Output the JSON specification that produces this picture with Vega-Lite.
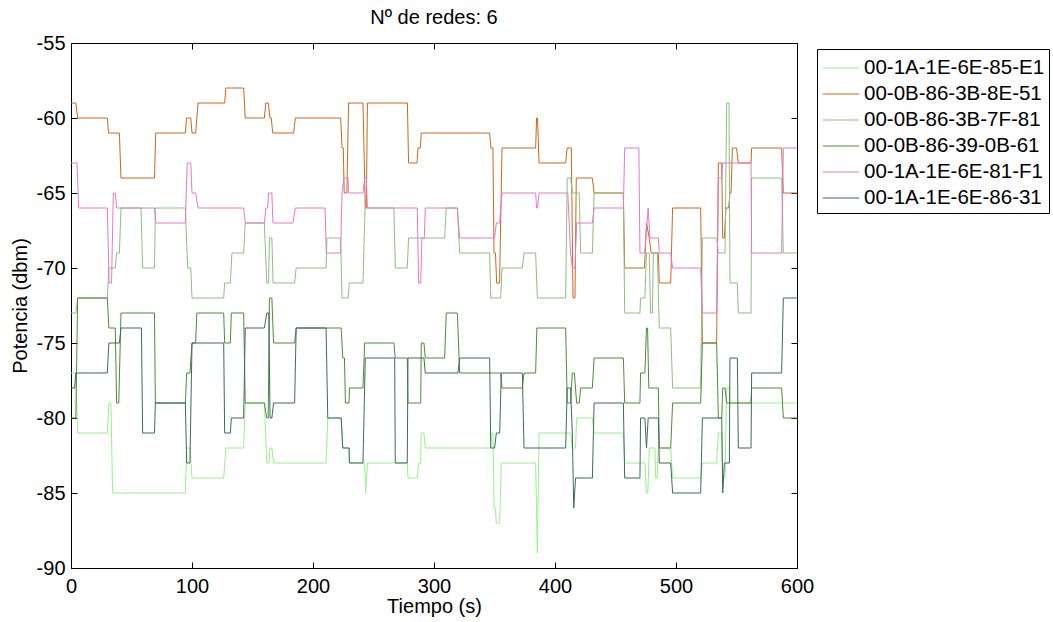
{
"$schema":"https://vega.github.io/schema/vega-lite/v6.json",
"width":726,"height":525,
"autosize":{"type":"none"},
"padding":{"left":71,"top":43,"right":256,"bottom":54},
"background":"white",
"title":{"text":"Nº de redes: 6","fontSize":20,"font":"Liberation Sans","fontWeight":"normal","color":"black","offset":5,"frame":"group","anchor":"middle"},
"datasets":{"d":[
{"s":"00-1A-1E-6E-85-E1","t":0,"v":-77},{"s":"00-1A-1E-6E-85-E1","t":4,"v":-77},{"s":"00-1A-1E-6E-85-E1","t":5.5,"v":-81},{"s":"00-1A-1E-6E-85-E1","t":30,"v":-81},{"s":"00-1A-1E-6E-85-E1","t":31.3,"v":-79},{"s":"00-1A-1E-6E-85-E1","t":33,"v":-79},{"s":"00-1A-1E-6E-85-E1","t":34.4,"v":-85},{"s":"00-1A-1E-6E-85-E1","t":94.5,"v":-85},{"s":"00-1A-1E-6E-85-E1","t":95.6,"v":-82},{"s":"00-1A-1E-6E-85-E1","t":98.3,"v":-82},{"s":"00-1A-1E-6E-85-E1","t":100,"v":-84},{"s":"00-1A-1E-6E-85-E1","t":126.2,"v":-84},{"s":"00-1A-1E-6E-85-E1","t":128,"v":-82},{"s":"00-1A-1E-6E-85-E1","t":142.7,"v":-82},{"s":"00-1A-1E-6E-85-E1","t":144,"v":-79},{"s":"00-1A-1E-6E-85-E1","t":159.8,"v":-79},{"s":"00-1A-1E-6E-85-E1","t":161.8,"v":-83},{"s":"00-1A-1E-6E-85-E1","t":163.5,"v":-83},{"s":"00-1A-1E-6E-85-E1","t":164.5,"v":-82},{"s":"00-1A-1E-6E-85-E1","t":166,"v":-82},{"s":"00-1A-1E-6E-85-E1","t":167.4,"v":-83},{"s":"00-1A-1E-6E-85-E1","t":210.8,"v":-83},{"s":"00-1A-1E-6E-85-E1","t":212.2,"v":-80},{"s":"00-1A-1E-6E-85-E1","t":223.3,"v":-80},{"s":"00-1A-1E-6E-85-E1","t":224.6,"v":-82},{"s":"00-1A-1E-6E-85-E1","t":229.8,"v":-82},{"s":"00-1A-1E-6E-85-E1","t":230.1,"v":-83},{"s":"00-1A-1E-6E-85-E1","t":242.7,"v":-83},{"s":"00-1A-1E-6E-85-E1","t":243.5,"v":-85},{"s":"00-1A-1E-6E-85-E1","t":245,"v":-83},{"s":"00-1A-1E-6E-85-E1","t":277.9,"v":-83},{"s":"00-1A-1E-6E-85-E1","t":278.5,"v":-84},{"s":"00-1A-1E-6E-85-E1","t":286.2,"v":-84},{"s":"00-1A-1E-6E-85-E1","t":287.3,"v":-83},{"s":"00-1A-1E-6E-85-E1","t":289,"v":-83},{"s":"00-1A-1E-6E-85-E1","t":289.5,"v":-81},{"s":"00-1A-1E-6E-85-E1","t":291.7,"v":-81},{"s":"00-1A-1E-6E-85-E1","t":292.8,"v":-82},{"s":"00-1A-1E-6E-85-E1","t":346.9,"v":-82},{"s":"00-1A-1E-6E-85-E1","t":347.4,"v":-81},{"s":"00-1A-1E-6E-85-E1","t":348.8,"v":-81},{"s":"00-1A-1E-6E-85-E1","t":349.6,"v":-86},{"s":"00-1A-1E-6E-85-E1","t":350.7,"v":-86},{"s":"00-1A-1E-6E-85-E1","t":351.5,"v":-87},{"s":"00-1A-1E-6E-85-E1","t":354.3,"v":-87},{"s":"00-1A-1E-6E-85-E1","t":355.6,"v":-83},{"s":"00-1A-1E-6E-85-E1","t":384,"v":-83},{"s":"00-1A-1E-6E-85-E1","t":385.4,"v":-89},{"s":"00-1A-1E-6E-85-E1","t":386.8,"v":-81},{"s":"00-1A-1E-6E-85-E1","t":412.9,"v":-81},{"s":"00-1A-1E-6E-85-E1","t":414.3,"v":-82},{"s":"00-1A-1E-6E-85-E1","t":417,"v":-82},{"s":"00-1A-1E-6E-85-E1","t":417.9,"v":-80},{"s":"00-1A-1E-6E-85-E1","t":430.9,"v":-80},{"s":"00-1A-1E-6E-85-E1","t":432.3,"v":-81},{"s":"00-1A-1E-6E-85-E1","t":456.5,"v":-81},{"s":"00-1A-1E-6E-85-E1","t":457.6,"v":-83},{"s":"00-1A-1E-6E-85-E1","t":474.3,"v":-83},{"s":"00-1A-1E-6E-85-E1","t":475.6,"v":-85},{"s":"00-1A-1E-6E-85-E1","t":476.7,"v":-85},{"s":"00-1A-1E-6E-85-E1","t":478,"v":-82},{"s":"00-1A-1E-6E-85-E1","t":482.6,"v":-82},{"s":"00-1A-1E-6E-85-E1","t":483.2,"v":-84},{"s":"00-1A-1E-6E-85-E1","t":484.5,"v":-84},{"s":"00-1A-1E-6E-85-E1","t":485.4,"v":-82},{"s":"00-1A-1E-6E-85-E1","t":495.6,"v":-82},{"s":"00-1A-1E-6E-85-E1","t":497.2,"v":-84},{"s":"00-1A-1E-6E-85-E1","t":520.4,"v":-84},{"s":"00-1A-1E-6E-85-E1","t":521.8,"v":-83},{"s":"00-1A-1E-6E-85-E1","t":533.6,"v":-83},{"s":"00-1A-1E-6E-85-E1","t":535,"v":-81},{"s":"00-1A-1E-6E-85-E1","t":537.8,"v":-81},{"s":"00-1A-1E-6E-85-E1","t":538.6,"v":-84},{"s":"00-1A-1E-6E-85-E1","t":540.5,"v":-84},{"s":"00-1A-1E-6E-85-E1","t":541.9,"v":-78},{"s":"00-1A-1E-6E-85-E1","t":544.1,"v":-78},{"s":"00-1A-1E-6E-85-E1","t":544.6,"v":-79},{"s":"00-1A-1E-6E-85-E1","t":600,"v":-79},
{"s":"00-0B-86-3B-8E-51","t":0,"v":-59},{"s":"00-0B-86-3B-8E-51","t":4,"v":-59},{"s":"00-0B-86-3B-8E-51","t":5.5,"v":-60},{"s":"00-0B-86-3B-8E-51","t":30,"v":-60},{"s":"00-0B-86-3B-8E-51","t":31,"v":-61},{"s":"00-0B-86-3B-8E-51","t":40,"v":-61},{"s":"00-0B-86-3B-8E-51","t":41.3,"v":-64},{"s":"00-0B-86-3B-8E-51","t":69,"v":-64},{"s":"00-0B-86-3B-8E-51","t":70,"v":-61},{"s":"00-0B-86-3B-8E-51","t":94.5,"v":-61},{"s":"00-0B-86-3B-8E-51","t":95.5,"v":-60},{"s":"00-0B-86-3B-8E-51","t":99,"v":-60},{"s":"00-0B-86-3B-8E-51","t":100,"v":-61},{"s":"00-0B-86-3B-8E-51","t":103,"v":-61},{"s":"00-0B-86-3B-8E-51","t":105,"v":-59},{"s":"00-0B-86-3B-8E-51","t":127,"v":-59},{"s":"00-0B-86-3B-8E-51","t":128,"v":-58},{"s":"00-0B-86-3B-8E-51","t":142.7,"v":-58},{"s":"00-0B-86-3B-8E-51","t":144,"v":-60},{"s":"00-0B-86-3B-8E-51","t":159.8,"v":-60},{"s":"00-0B-86-3B-8E-51","t":161,"v":-59},{"s":"00-0B-86-3B-8E-51","t":163,"v":-59},{"s":"00-0B-86-3B-8E-51","t":164.5,"v":-60},{"s":"00-0B-86-3B-8E-51","t":165.5,"v":-60},{"s":"00-0B-86-3B-8E-51","t":166.7,"v":-61},{"s":"00-0B-86-3B-8E-51","t":184,"v":-61},{"s":"00-0B-86-3B-8E-51","t":185.4,"v":-60},{"s":"00-0B-86-3B-8E-51","t":222.9,"v":-60},{"s":"00-0B-86-3B-8E-51","t":224,"v":-62},{"s":"00-0B-86-3B-8E-51","t":225,"v":-62},{"s":"00-0B-86-3B-8E-51","t":225.8,"v":-65},{"s":"00-0B-86-3B-8E-51","t":228,"v":-65},{"s":"00-0B-86-3B-8E-51","t":229.4,"v":-59},{"s":"00-0B-86-3B-8E-51","t":241.3,"v":-59},{"s":"00-0B-86-3B-8E-51","t":243.2,"v":-66},{"s":"00-0B-86-3B-8E-51","t":244,"v":-66},{"s":"00-0B-86-3B-8E-51","t":245,"v":-59},{"s":"00-0B-86-3B-8E-51","t":278,"v":-59},{"s":"00-0B-86-3B-8E-51","t":279,"v":-63},{"s":"00-0B-86-3B-8E-51","t":286,"v":-63},{"s":"00-0B-86-3B-8E-51","t":286.8,"v":-62},{"s":"00-0B-86-3B-8E-51","t":288.7,"v":-62},{"s":"00-0B-86-3B-8E-51","t":289.5,"v":-61},{"s":"00-0B-86-3B-8E-51","t":346,"v":-61},{"s":"00-0B-86-3B-8E-51","t":347,"v":-62},{"s":"00-0B-86-3B-8E-51","t":348.7,"v":-62},{"s":"00-0B-86-3B-8E-51","t":349.6,"v":-69},{"s":"00-0B-86-3B-8E-51","t":350.8,"v":-69},{"s":"00-0B-86-3B-8E-51","t":351.8,"v":-71},{"s":"00-0B-86-3B-8E-51","t":354.2,"v":-71},{"s":"00-0B-86-3B-8E-51","t":356.2,"v":-62},{"s":"00-0B-86-3B-8E-51","t":384,"v":-62},{"s":"00-0B-86-3B-8E-51","t":384.8,"v":-60},{"s":"00-0B-86-3B-8E-51","t":385.6,"v":-60},{"s":"00-0B-86-3B-8E-51","t":386.8,"v":-63},{"s":"00-0B-86-3B-8E-51","t":408.8,"v":-63},{"s":"00-0B-86-3B-8E-51","t":410,"v":-62},{"s":"00-0B-86-3B-8E-51","t":413.5,"v":-62},{"s":"00-0B-86-3B-8E-51","t":414.9,"v":-72},{"s":"00-0B-86-3B-8E-51","t":416.5,"v":-72},{"s":"00-0B-86-3B-8E-51","t":417.6,"v":-64},{"s":"00-0B-86-3B-8E-51","t":430.9,"v":-64},{"s":"00-0B-86-3B-8E-51","t":432.3,"v":-65},{"s":"00-0B-86-3B-8E-51","t":456.5,"v":-65},{"s":"00-0B-86-3B-8E-51","t":457.6,"v":-70},{"s":"00-0B-86-3B-8E-51","t":474,"v":-70},{"s":"00-0B-86-3B-8E-51","t":475.6,"v":-67},{"s":"00-0B-86-3B-8E-51","t":477.9,"v":-68},{"s":"00-0B-86-3B-8E-51","t":479.5,"v":-69},{"s":"00-0B-86-3B-8E-51","t":485.4,"v":-69},{"s":"00-0B-86-3B-8E-51","t":486.2,"v":-71},{"s":"00-0B-86-3B-8E-51","t":495.6,"v":-71},{"s":"00-0B-86-3B-8E-51","t":497.2,"v":-66},{"s":"00-0B-86-3B-8E-51","t":520.4,"v":-66},{"s":"00-0B-86-3B-8E-51","t":521.8,"v":-75},{"s":"00-0B-86-3B-8E-51","t":533.6,"v":-75},{"s":"00-0B-86-3B-8E-51","t":535,"v":-63},{"s":"00-0B-86-3B-8E-51","t":537.8,"v":-63},{"s":"00-0B-86-3B-8E-51","t":538.6,"v":-68},{"s":"00-0B-86-3B-8E-51","t":540,"v":-68},{"s":"00-0B-86-3B-8E-51","t":541.3,"v":-66},{"s":"00-0B-86-3B-8E-51","t":543.5,"v":-66},{"s":"00-0B-86-3B-8E-51","t":544.6,"v":-65},{"s":"00-0B-86-3B-8E-51","t":545.5,"v":-65},{"s":"00-0B-86-3B-8E-51","t":546.6,"v":-62},{"s":"00-0B-86-3B-8E-51","t":550,"v":-62},{"s":"00-0B-86-3B-8E-51","t":551.5,"v":-63},{"s":"00-0B-86-3B-8E-51","t":562,"v":-63},{"s":"00-0B-86-3B-8E-51","t":562.5,"v":-62},{"s":"00-0B-86-3B-8E-51","t":587.3,"v":-62},{"s":"00-0B-86-3B-8E-51","t":588.7,"v":-65},{"s":"00-0B-86-3B-8E-51","t":600,"v":-65},
{"s":"00-0B-86-3B-7F-81","t":0,"v":-73},{"s":"00-0B-86-3B-7F-81","t":4,"v":-73},{"s":"00-0B-86-3B-7F-81","t":5.5,"v":-72},{"s":"00-0B-86-3B-7F-81","t":30,"v":-72},{"s":"00-0B-86-3B-7F-81","t":31.3,"v":-70},{"s":"00-0B-86-3B-7F-81","t":36.6,"v":-70},{"s":"00-0B-86-3B-7F-81","t":37.7,"v":-69},{"s":"00-0B-86-3B-7F-81","t":40,"v":-69},{"s":"00-0B-86-3B-7F-81","t":41.3,"v":-66},{"s":"00-0B-86-3B-7F-81","t":57.9,"v":-66},{"s":"00-0B-86-3B-7F-81","t":59.2,"v":-70},{"s":"00-0B-86-3B-7F-81","t":69,"v":-70},{"s":"00-0B-86-3B-7F-81","t":69.7,"v":-66},{"s":"00-0B-86-3B-7F-81","t":94.5,"v":-66},{"s":"00-0B-86-3B-7F-81","t":96.4,"v":-70},{"s":"00-0B-86-3B-7F-81","t":99,"v":-70},{"s":"00-0B-86-3B-7F-81","t":100,"v":-72},{"s":"00-0B-86-3B-7F-81","t":126.2,"v":-72},{"s":"00-0B-86-3B-7F-81","t":127,"v":-71},{"s":"00-0B-86-3B-7F-81","t":131.7,"v":-71},{"s":"00-0B-86-3B-7F-81","t":133,"v":-69},{"s":"00-0B-86-3B-7F-81","t":142.7,"v":-69},{"s":"00-0B-86-3B-7F-81","t":144,"v":-67},{"s":"00-0B-86-3B-7F-81","t":159.8,"v":-67},{"s":"00-0B-86-3B-7F-81","t":161.8,"v":-71},{"s":"00-0B-86-3B-7F-81","t":163.3,"v":-71},{"s":"00-0B-86-3B-7F-81","t":164,"v":-68},{"s":"00-0B-86-3B-7F-81","t":166,"v":-68},{"s":"00-0B-86-3B-7F-81","t":167,"v":-71},{"s":"00-0B-86-3B-7F-81","t":184.8,"v":-71},{"s":"00-0B-86-3B-7F-81","t":186.1,"v":-70},{"s":"00-0B-86-3B-7F-81","t":210.8,"v":-70},{"s":"00-0B-86-3B-7F-81","t":211.5,"v":-68},{"s":"00-0B-86-3B-7F-81","t":222.8,"v":-68},{"s":"00-0B-86-3B-7F-81","t":224,"v":-72},{"s":"00-0B-86-3B-7F-81","t":229,"v":-72},{"s":"00-0B-86-3B-7F-81","t":230,"v":-71},{"s":"00-0B-86-3B-7F-81","t":241.3,"v":-71},{"s":"00-0B-86-3B-7F-81","t":243,"v":-66},{"s":"00-0B-86-3B-7F-81","t":266.9,"v":-66},{"s":"00-0B-86-3B-7F-81","t":268,"v":-70},{"s":"00-0B-86-3B-7F-81","t":277.9,"v":-70},{"s":"00-0B-86-3B-7F-81","t":279,"v":-68},{"s":"00-0B-86-3B-7F-81","t":308.8,"v":-68},{"s":"00-0B-86-3B-7F-81","t":310.1,"v":-66},{"s":"00-0B-86-3B-7F-81","t":319.3,"v":-66},{"s":"00-0B-86-3B-7F-81","t":321.2,"v":-69},{"s":"00-0B-86-3B-7F-81","t":346,"v":-69},{"s":"00-0B-86-3B-7F-81","t":346.9,"v":-72},{"s":"00-0B-86-3B-7F-81","t":355.1,"v":-72},{"s":"00-0B-86-3B-7F-81","t":356.2,"v":-70},{"s":"00-0B-86-3B-7F-81","t":373,"v":-70},{"s":"00-0B-86-3B-7F-81","t":374.4,"v":-69},{"s":"00-0B-86-3B-7F-81","t":384,"v":-69},{"s":"00-0B-86-3B-7F-81","t":385.4,"v":-72},{"s":"00-0B-86-3B-7F-81","t":408.8,"v":-72},{"s":"00-0B-86-3B-7F-81","t":410.1,"v":-64},{"s":"00-0B-86-3B-7F-81","t":412.9,"v":-64},{"s":"00-0B-86-3B-7F-81","t":414.5,"v":-65},{"s":"00-0B-86-3B-7F-81","t":420,"v":-65},{"s":"00-0B-86-3B-7F-81","t":421.2,"v":-69},{"s":"00-0B-86-3B-7F-81","t":430.9,"v":-69},{"s":"00-0B-86-3B-7F-81","t":432.3,"v":-65},{"s":"00-0B-86-3B-7F-81","t":456.5,"v":-65},{"s":"00-0B-86-3B-7F-81","t":457.6,"v":-73},{"s":"00-0B-86-3B-7F-81","t":470.2,"v":-73},{"s":"00-0B-86-3B-7F-81","t":470.7,"v":-72},{"s":"00-0B-86-3B-7F-81","t":474.3,"v":-72},{"s":"00-0B-86-3B-7F-81","t":475.6,"v":-69},{"s":"00-0B-86-3B-7F-81","t":477.9,"v":-69},{"s":"00-0B-86-3B-7F-81","t":479,"v":-73},{"s":"00-0B-86-3B-7F-81","t":480.5,"v":-73},{"s":"00-0B-86-3B-7F-81","t":481.3,"v":-69},{"s":"00-0B-86-3B-7F-81","t":484.6,"v":-69},{"s":"00-0B-86-3B-7F-81","t":486.2,"v":-74},{"s":"00-0B-86-3B-7F-81","t":495.6,"v":-74},{"s":"00-0B-86-3B-7F-81","t":497.2,"v":-78},{"s":"00-0B-86-3B-7F-81","t":520.4,"v":-78},{"s":"00-0B-86-3B-7F-81","t":521.8,"v":-68},{"s":"00-0B-86-3B-7F-81","t":533.6,"v":-68},{"s":"00-0B-86-3B-7F-81","t":535,"v":-69},{"s":"00-0B-86-3B-7F-81","t":540.5,"v":-69},{"s":"00-0B-86-3B-7F-81","t":541.9,"v":-59},{"s":"00-0B-86-3B-7F-81","t":543.8,"v":-59},{"s":"00-0B-86-3B-7F-81","t":544.6,"v":-71},{"s":"00-0B-86-3B-7F-81","t":550.7,"v":-71},{"s":"00-0B-86-3B-7F-81","t":551.5,"v":-73},{"s":"00-0B-86-3B-7F-81","t":562,"v":-73},{"s":"00-0B-86-3B-7F-81","t":562.5,"v":-64},{"s":"00-0B-86-3B-7F-81","t":587.3,"v":-64},{"s":"00-0B-86-3B-7F-81","t":588.7,"v":-69},{"s":"00-0B-86-3B-7F-81","t":600,"v":-69},
{"s":"00-0B-86-39-0B-61","t":0,"v":-80},{"s":"00-0B-86-39-0B-61","t":4,"v":-80},{"s":"00-0B-86-39-0B-61","t":5.5,"v":-72},{"s":"00-0B-86-39-0B-61","t":30,"v":-72},{"s":"00-0B-86-39-0B-61","t":31.3,"v":-74},{"s":"00-0B-86-39-0B-61","t":36.6,"v":-74},{"s":"00-0B-86-39-0B-61","t":37.7,"v":-79},{"s":"00-0B-86-39-0B-61","t":39.5,"v":-79},{"s":"00-0B-86-39-0B-61","t":41.3,"v":-73},{"s":"00-0B-86-39-0B-61","t":69,"v":-73},{"s":"00-0B-86-39-0B-61","t":69.7,"v":-79},{"s":"00-0B-86-39-0B-61","t":94.5,"v":-79},{"s":"00-0B-86-39-0B-61","t":95.6,"v":-77},{"s":"00-0B-86-39-0B-61","t":98.3,"v":-77},{"s":"00-0B-86-39-0B-61","t":100,"v":-75},{"s":"00-0B-86-39-0B-61","t":103,"v":-75},{"s":"00-0B-86-39-0B-61","t":104,"v":-73},{"s":"00-0B-86-39-0B-61","t":126.2,"v":-73},{"s":"00-0B-86-39-0B-61","t":127,"v":-75},{"s":"00-0B-86-39-0B-61","t":131.7,"v":-75},{"s":"00-0B-86-39-0B-61","t":132.5,"v":-73},{"s":"00-0B-86-39-0B-61","t":142.7,"v":-73},{"s":"00-0B-86-39-0B-61","t":144,"v":-79},{"s":"00-0B-86-39-0B-61","t":159.8,"v":-79},{"s":"00-0B-86-39-0B-61","t":161.8,"v":-80},{"s":"00-0B-86-39-0B-61","t":163,"v":-80},{"s":"00-0B-86-39-0B-61","t":164,"v":-72},{"s":"00-0B-86-39-0B-61","t":166,"v":-72},{"s":"00-0B-86-39-0B-61","t":167.4,"v":-75},{"s":"00-0B-86-39-0B-61","t":184.8,"v":-75},{"s":"00-0B-86-39-0B-61","t":186.1,"v":-74},{"s":"00-0B-86-39-0B-61","t":223.3,"v":-74},{"s":"00-0B-86-39-0B-61","t":224.6,"v":-76},{"s":"00-0B-86-39-0B-61","t":226,"v":-76},{"s":"00-0B-86-39-0B-61","t":226.8,"v":-79},{"s":"00-0B-86-39-0B-61","t":229.8,"v":-79},{"s":"00-0B-86-39-0B-61","t":230.1,"v":-78},{"s":"00-0B-86-39-0B-61","t":241.3,"v":-78},{"s":"00-0B-86-39-0B-61","t":242.7,"v":-75},{"s":"00-0B-86-39-0B-61","t":266.9,"v":-75},{"s":"00-0B-86-39-0B-61","t":268,"v":-76},{"s":"00-0B-86-39-0B-61","t":277.9,"v":-76},{"s":"00-0B-86-39-0B-61","t":278.5,"v":-79},{"s":"00-0B-86-39-0B-61","t":289,"v":-79},{"s":"00-0B-86-39-0B-61","t":289.5,"v":-75},{"s":"00-0B-86-39-0B-61","t":291.7,"v":-75},{"s":"00-0B-86-39-0B-61","t":292.8,"v":-76},{"s":"00-0B-86-39-0B-61","t":308.8,"v":-76},{"s":"00-0B-86-39-0B-61","t":310.1,"v":-73},{"s":"00-0B-86-39-0B-61","t":319.3,"v":-73},{"s":"00-0B-86-39-0B-61","t":321.2,"v":-77},{"s":"00-0B-86-39-0B-61","t":355.1,"v":-77},{"s":"00-0B-86-39-0B-61","t":356.2,"v":-78},{"s":"00-0B-86-39-0B-61","t":373,"v":-78},{"s":"00-0B-86-39-0B-61","t":374.4,"v":-77},{"s":"00-0B-86-39-0B-61","t":384,"v":-77},{"s":"00-0B-86-39-0B-61","t":385,"v":-74},{"s":"00-0B-86-39-0B-61","t":408.8,"v":-74},{"s":"00-0B-86-39-0B-61","t":410.1,"v":-79},{"s":"00-0B-86-39-0B-61","t":412.9,"v":-79},{"s":"00-0B-86-39-0B-61","t":414.3,"v":-77},{"s":"00-0B-86-39-0B-61","t":416,"v":-77},{"s":"00-0B-86-39-0B-61","t":417.9,"v":-79},{"s":"00-0B-86-39-0B-61","t":420,"v":-79},{"s":"00-0B-86-39-0B-61","t":421.2,"v":-78},{"s":"00-0B-86-39-0B-61","t":430.9,"v":-78},{"s":"00-0B-86-39-0B-61","t":432.3,"v":-76},{"s":"00-0B-86-39-0B-61","t":456.5,"v":-76},{"s":"00-0B-86-39-0B-61","t":457.6,"v":-79},{"s":"00-0B-86-39-0B-61","t":470.2,"v":-79},{"s":"00-0B-86-39-0B-61","t":470.7,"v":-77},{"s":"00-0B-86-39-0B-61","t":474.3,"v":-77},{"s":"00-0B-86-39-0B-61","t":475.6,"v":-74},{"s":"00-0B-86-39-0B-61","t":476.5,"v":-74},{"s":"00-0B-86-39-0B-61","t":477.5,"v":-78},{"s":"00-0B-86-39-0B-61","t":485.4,"v":-78},{"s":"00-0B-86-39-0B-61","t":486.2,"v":-82},{"s":"00-0B-86-39-0B-61","t":495.6,"v":-82},{"s":"00-0B-86-39-0B-61","t":497.2,"v":-79},{"s":"00-0B-86-39-0B-61","t":520.4,"v":-79},{"s":"00-0B-86-39-0B-61","t":521.8,"v":-75},{"s":"00-0B-86-39-0B-61","t":533.6,"v":-75},{"s":"00-0B-86-39-0B-61","t":535,"v":-80},{"s":"00-0B-86-39-0B-61","t":537.8,"v":-80},{"s":"00-0B-86-39-0B-61","t":538.6,"v":-78},{"s":"00-0B-86-39-0B-61","t":540.5,"v":-78},{"s":"00-0B-86-39-0B-61","t":541.9,"v":-79},{"s":"00-0B-86-39-0B-61","t":562,"v":-79},{"s":"00-0B-86-39-0B-61","t":562.5,"v":-78},{"s":"00-0B-86-39-0B-61","t":587.3,"v":-78},{"s":"00-0B-86-39-0B-61","t":588.7,"v":-80},{"s":"00-0B-86-39-0B-61","t":600,"v":-80},
{"s":"00-1A-1E-6E-81-F1","t":0,"v":-63},{"s":"00-1A-1E-6E-81-F1","t":5,"v":-63},{"s":"00-1A-1E-6E-81-F1","t":6.3,"v":-66},{"s":"00-1A-1E-6E-81-F1","t":30,"v":-66},{"s":"00-1A-1E-6E-81-F1","t":31.5,"v":-71},{"s":"00-1A-1E-6E-81-F1","t":33.5,"v":-71},{"s":"00-1A-1E-6E-81-F1","t":35,"v":-65},{"s":"00-1A-1E-6E-81-F1","t":36.6,"v":-65},{"s":"00-1A-1E-6E-81-F1","t":37.7,"v":-66},{"s":"00-1A-1E-6E-81-F1","t":69,"v":-66},{"s":"00-1A-1E-6E-81-F1","t":70.2,"v":-67},{"s":"00-1A-1E-6E-81-F1","t":94.5,"v":-67},{"s":"00-1A-1E-6E-81-F1","t":96,"v":-63},{"s":"00-1A-1E-6E-81-F1","t":99,"v":-63},{"s":"00-1A-1E-6E-81-F1","t":100,"v":-65},{"s":"00-1A-1E-6E-81-F1","t":103,"v":-65},{"s":"00-1A-1E-6E-81-F1","t":105,"v":-66},{"s":"00-1A-1E-6E-81-F1","t":142.7,"v":-66},{"s":"00-1A-1E-6E-81-F1","t":144,"v":-67},{"s":"00-1A-1E-6E-81-F1","t":159.8,"v":-67},{"s":"00-1A-1E-6E-81-F1","t":161.1,"v":-66},{"s":"00-1A-1E-6E-81-F1","t":162.5,"v":-66},{"s":"00-1A-1E-6E-81-F1","t":163.3,"v":-65},{"s":"00-1A-1E-6E-81-F1","t":166,"v":-65},{"s":"00-1A-1E-6E-81-F1","t":166.9,"v":-67},{"s":"00-1A-1E-6E-81-F1","t":183.4,"v":-67},{"s":"00-1A-1E-6E-81-F1","t":185.4,"v":-66},{"s":"00-1A-1E-6E-81-F1","t":210,"v":-66},{"s":"00-1A-1E-6E-81-F1","t":211,"v":-69},{"s":"00-1A-1E-6E-81-F1","t":222.8,"v":-69},{"s":"00-1A-1E-6E-81-F1","t":224,"v":-65},{"s":"00-1A-1E-6E-81-F1","t":225.5,"v":-64},{"s":"00-1A-1E-6E-81-F1","t":229,"v":-64},{"s":"00-1A-1E-6E-81-F1","t":229.4,"v":-65},{"s":"00-1A-1E-6E-81-F1","t":241.3,"v":-65},{"s":"00-1A-1E-6E-81-F1","t":242.7,"v":-64},{"s":"00-1A-1E-6E-81-F1","t":244,"v":-64},{"s":"00-1A-1E-6E-81-F1","t":245,"v":-66},{"s":"00-1A-1E-6E-81-F1","t":286.2,"v":-66},{"s":"00-1A-1E-6E-81-F1","t":287.3,"v":-71},{"s":"00-1A-1E-6E-81-F1","t":289,"v":-71},{"s":"00-1A-1E-6E-81-F1","t":290,"v":-68},{"s":"00-1A-1E-6E-81-F1","t":292,"v":-68},{"s":"00-1A-1E-6E-81-F1","t":292.8,"v":-66},{"s":"00-1A-1E-6E-81-F1","t":319.3,"v":-66},{"s":"00-1A-1E-6E-81-F1","t":321.2,"v":-68},{"s":"00-1A-1E-6E-81-F1","t":350,"v":-68},{"s":"00-1A-1E-6E-81-F1","t":351.5,"v":-67},{"s":"00-1A-1E-6E-81-F1","t":354.2,"v":-67},{"s":"00-1A-1E-6E-81-F1","t":356.2,"v":-65},{"s":"00-1A-1E-6E-81-F1","t":384,"v":-65},{"s":"00-1A-1E-6E-81-F1","t":384.8,"v":-66},{"s":"00-1A-1E-6E-81-F1","t":385.6,"v":-66},{"s":"00-1A-1E-6E-81-F1","t":386.8,"v":-65},{"s":"00-1A-1E-6E-81-F1","t":410.6,"v":-65},{"s":"00-1A-1E-6E-81-F1","t":412.9,"v":-69},{"s":"00-1A-1E-6E-81-F1","t":414.3,"v":-70},{"s":"00-1A-1E-6E-81-F1","t":416.5,"v":-70},{"s":"00-1A-1E-6E-81-F1","t":417.9,"v":-67},{"s":"00-1A-1E-6E-81-F1","t":430.9,"v":-67},{"s":"00-1A-1E-6E-81-F1","t":432.3,"v":-66},{"s":"00-1A-1E-6E-81-F1","t":456.5,"v":-66},{"s":"00-1A-1E-6E-81-F1","t":457.6,"v":-62},{"s":"00-1A-1E-6E-81-F1","t":469.3,"v":-62},{"s":"00-1A-1E-6E-81-F1","t":470.2,"v":-69},{"s":"00-1A-1E-6E-81-F1","t":474.1,"v":-69},{"s":"00-1A-1E-6E-81-F1","t":477,"v":-66},{"s":"00-1A-1E-6E-81-F1","t":478.5,"v":-68},{"s":"00-1A-1E-6E-81-F1","t":485.4,"v":-68},{"s":"00-1A-1E-6E-81-F1","t":486.2,"v":-69},{"s":"00-1A-1E-6E-81-F1","t":495.6,"v":-69},{"s":"00-1A-1E-6E-81-F1","t":497.2,"v":-70},{"s":"00-1A-1E-6E-81-F1","t":520.4,"v":-70},{"s":"00-1A-1E-6E-81-F1","t":521.8,"v":-73},{"s":"00-1A-1E-6E-81-F1","t":533.6,"v":-73},{"s":"00-1A-1E-6E-81-F1","t":535,"v":-64},{"s":"00-1A-1E-6E-81-F1","t":537.8,"v":-64},{"s":"00-1A-1E-6E-81-F1","t":538.6,"v":-63},{"s":"00-1A-1E-6E-81-F1","t":562,"v":-63},{"s":"00-1A-1E-6E-81-F1","t":562.5,"v":-69},{"s":"00-1A-1E-6E-81-F1","t":587.3,"v":-69},{"s":"00-1A-1E-6E-81-F1","t":588.7,"v":-62},{"s":"00-1A-1E-6E-81-F1","t":600,"v":-62},
{"s":"00-1A-1E-6E-86-31","t":0,"v":-78},{"s":"00-1A-1E-6E-86-31","t":3,"v":-78},{"s":"00-1A-1E-6E-86-31","t":4,"v":-77},{"s":"00-1A-1E-6E-86-31","t":30,"v":-77},{"s":"00-1A-1E-6E-86-31","t":31.3,"v":-75},{"s":"00-1A-1E-6E-86-31","t":40,"v":-75},{"s":"00-1A-1E-6E-86-31","t":41.3,"v":-74},{"s":"00-1A-1E-6E-86-31","t":58.2,"v":-74},{"s":"00-1A-1E-6E-86-31","t":59.2,"v":-81},{"s":"00-1A-1E-6E-86-31","t":69,"v":-81},{"s":"00-1A-1E-6E-86-31","t":69.7,"v":-79},{"s":"00-1A-1E-6E-86-31","t":94.5,"v":-79},{"s":"00-1A-1E-6E-86-31","t":95.6,"v":-83},{"s":"00-1A-1E-6E-86-31","t":98.3,"v":-83},{"s":"00-1A-1E-6E-86-31","t":100,"v":-75},{"s":"00-1A-1E-6E-86-31","t":126.2,"v":-75},{"s":"00-1A-1E-6E-86-31","t":127,"v":-81},{"s":"00-1A-1E-6E-86-31","t":131.7,"v":-81},{"s":"00-1A-1E-6E-86-31","t":132.5,"v":-80},{"s":"00-1A-1E-6E-86-31","t":142.7,"v":-80},{"s":"00-1A-1E-6E-86-31","t":144,"v":-74},{"s":"00-1A-1E-6E-86-31","t":159.8,"v":-74},{"s":"00-1A-1E-6E-86-31","t":161.8,"v":-73},{"s":"00-1A-1E-6E-86-31","t":163.5,"v":-73},{"s":"00-1A-1E-6E-86-31","t":164.5,"v":-80},{"s":"00-1A-1E-6E-86-31","t":166,"v":-80},{"s":"00-1A-1E-6E-86-31","t":167.4,"v":-79},{"s":"00-1A-1E-6E-86-31","t":184.8,"v":-79},{"s":"00-1A-1E-6E-86-31","t":186.1,"v":-74},{"s":"00-1A-1E-6E-86-31","t":210.8,"v":-74},{"s":"00-1A-1E-6E-86-31","t":212.2,"v":-80},{"s":"00-1A-1E-6E-86-31","t":223.3,"v":-80},{"s":"00-1A-1E-6E-86-31","t":224.6,"v":-82},{"s":"00-1A-1E-6E-86-31","t":229.8,"v":-82},{"s":"00-1A-1E-6E-86-31","t":230.1,"v":-83},{"s":"00-1A-1E-6E-86-31","t":241.3,"v":-83},{"s":"00-1A-1E-6E-86-31","t":243.2,"v":-76},{"s":"00-1A-1E-6E-86-31","t":267.5,"v":-76},{"s":"00-1A-1E-6E-86-31","t":268,"v":-83},{"s":"00-1A-1E-6E-86-31","t":277.9,"v":-83},{"s":"00-1A-1E-6E-86-31","t":278.5,"v":-76},{"s":"00-1A-1E-6E-86-31","t":291.7,"v":-76},{"s":"00-1A-1E-6E-86-31","t":292.8,"v":-77},{"s":"00-1A-1E-6E-86-31","t":319.8,"v":-77},{"s":"00-1A-1E-6E-86-31","t":321.2,"v":-76},{"s":"00-1A-1E-6E-86-31","t":346,"v":-76},{"s":"00-1A-1E-6E-86-31","t":346.9,"v":-82},{"s":"00-1A-1E-6E-86-31","t":350.1,"v":-82},{"s":"00-1A-1E-6E-86-31","t":351.5,"v":-81},{"s":"00-1A-1E-6E-86-31","t":354.3,"v":-81},{"s":"00-1A-1E-6E-86-31","t":355.6,"v":-77},{"s":"00-1A-1E-6E-86-31","t":373,"v":-77},{"s":"00-1A-1E-6E-86-31","t":374.4,"v":-82},{"s":"00-1A-1E-6E-86-31","t":408.8,"v":-82},{"s":"00-1A-1E-6E-86-31","t":410.1,"v":-78},{"s":"00-1A-1E-6E-86-31","t":412.9,"v":-78},{"s":"00-1A-1E-6E-86-31","t":414.3,"v":-81},{"s":"00-1A-1E-6E-86-31","t":415.5,"v":-86},{"s":"00-1A-1E-6E-86-31","t":417,"v":-84},{"s":"00-1A-1E-6E-86-31","t":430.9,"v":-84},{"s":"00-1A-1E-6E-86-31","t":432.3,"v":-79},{"s":"00-1A-1E-6E-86-31","t":456.5,"v":-79},{"s":"00-1A-1E-6E-86-31","t":457.6,"v":-84},{"s":"00-1A-1E-6E-86-31","t":470.2,"v":-84},{"s":"00-1A-1E-6E-86-31","t":470.7,"v":-80},{"s":"00-1A-1E-6E-86-31","t":474.3,"v":-80},{"s":"00-1A-1E-6E-86-31","t":475.6,"v":-82},{"s":"00-1A-1E-6E-86-31","t":477,"v":-80},{"s":"00-1A-1E-6E-86-31","t":485.4,"v":-80},{"s":"00-1A-1E-6E-86-31","t":486.2,"v":-83},{"s":"00-1A-1E-6E-86-31","t":495.6,"v":-83},{"s":"00-1A-1E-6E-86-31","t":497.2,"v":-85},{"s":"00-1A-1E-6E-86-31","t":520.4,"v":-85},{"s":"00-1A-1E-6E-86-31","t":521.8,"v":-80},{"s":"00-1A-1E-6E-86-31","t":537.8,"v":-80},{"s":"00-1A-1E-6E-86-31","t":538.6,"v":-85},{"s":"00-1A-1E-6E-86-31","t":540,"v":-83},{"s":"00-1A-1E-6E-86-31","t":544.1,"v":-83},{"s":"00-1A-1E-6E-86-31","t":544.6,"v":-76},{"s":"00-1A-1E-6E-86-31","t":550.7,"v":-76},{"s":"00-1A-1E-6E-86-31","t":551.5,"v":-82},{"s":"00-1A-1E-6E-86-31","t":562,"v":-82},{"s":"00-1A-1E-6E-86-31","t":562.5,"v":-77},{"s":"00-1A-1E-6E-86-31","t":587.3,"v":-77},{"s":"00-1A-1E-6E-86-31","t":588.7,"v":-72},{"s":"00-1A-1E-6E-86-31","t":600,"v":-72}
]},
"data":{"name":"d"},
"layer":[
{"mark":{"type":"line","strokeWidth":1,"clip":true},
 "encoding":{
  "x":{"field":"t","type":"quantitative","scale":{"domain":[0,600],"nice":false},
       "axis":{"orient":"bottom","values":[0,100,200,300,400,500,600],"labelExpr":"'' + datum.value","title":"Tiempo (s)","tickSize":-6,"labelPadding":14,"titlePadding":0,"labelFlush":false}},
  "y":{"field":"v","type":"quantitative","scale":{"domain":[-90,-55],"nice":false,"zero":false},
       "axis":{"orient":"left","values":[-90,-85,-80,-75,-70,-65,-60,-55],"labelExpr":"'' + datum.value","title":"Potencia (dbm)","tickSize":-6,"labelPadding":12,"titlePadding":6,"labelFlush":false}},
  "color":{"field":"s","type":"nominal",
    "scale":{"domain":["00-1A-1E-6E-85-E1","00-0B-86-3B-8E-51","00-0B-86-3B-7F-81","00-0B-86-39-0B-61","00-1A-1E-6E-81-F1","00-1A-1E-6E-86-31"],
             "range":["#96f28a","#c8691e","#8cbf80","#4e8c38","#e47ac8","#3d6b5c"]},
    "legend":{"orient":"none","legendX":746,"legendY":6,"title":null,"strokeColor":"black","fillColor":"white","padding":4,"symbolType":"M-1.3,0H1.3","symbolSize":784,"symbolOffset":5,"symbolStrokeWidth":1.2,"labelFontSize":20.5,"labelFont":"Liberation Sans","labelColor":"black","labelLimit":400,"rowPadding":-4.5,"labelOffset":8,"cornerRadius":0}}
 }},
{"mark":{"type":"point","opacity":0},
 "encoding":{
  "x":{"field":"t","type":"quantitative","axis":{"orient":"top","values":[0,100,200,300,400,500,600],"labels":false,"title":null,"tickSize":-6}},
  "y":{"field":"v","type":"quantitative","axis":{"orient":"right","values":[-90,-85,-80,-75,-70,-65,-60,-55],"labels":false,"title":null,"tickSize":-6}}
 }}
],
"resolve":{"axis":{"x":"independent","y":"independent"}},
"config":{
 "view":{"stroke":"black","strokeWidth":1},
 "axis":{"labelFont":"Liberation Sans","labelFontSize":20,"titleFont":"Liberation Sans","titleFontSize":20,"titleFontWeight":"normal","labelColor":"black","titleColor":"black","tickColor":"black","domain":false,"grid":false}
}
}
